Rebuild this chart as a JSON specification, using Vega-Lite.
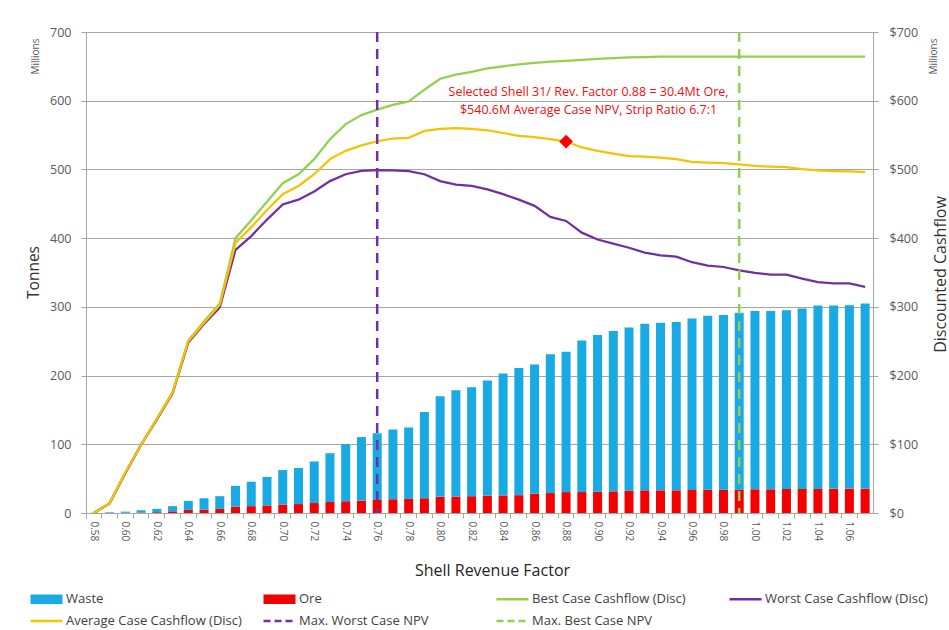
{
"$schema":"https://vega.github.io/schema/vega-lite/v6.json",
"width":787,"height":481,
"autosize":{"type":"none"},
"padding":{"left":86,"top":32,"right":76,"bottom":117},
"background":"white",
"config":{"font":"Open Sans","view":{"stroke":null},
 "axis":{"labelColor":"#595959","titleColor":"#333333","domainColor":"#A6A6A6","tickColor":"#A6A6A6","gridColor":"#A6A6A6","labelFont":"Open Sans","titleFont":"Open Sans","titleFontWeight":"normal"},
 "legend":{"labelFont":"Open Sans"}},
"datasets":{
"bars":[
{"rf":"0.58","s":"Ore","t":0},{"rf":"0.58","s":"Waste","t":0.3},
{"rf":"0.59","s":"Ore","t":0.2},{"rf":"0.59","s":"Waste","t":0.8},
{"rf":"0.60","s":"Ore","t":0.4},{"rf":"0.60","s":"Waste","t":1.6},
{"rf":"0.61","s":"Ore","t":0.7},{"rf":"0.61","s":"Waste","t":3.3},
{"rf":"0.62","s":"Ore","t":1.2},{"rf":"0.62","s":"Waste","t":4.8},
{"rf":"0.63","s":"Ore","t":2.5},{"rf":"0.63","s":"Waste","t":7.5},
{"rf":"0.64","s":"Ore","t":4.5},{"rf":"0.64","s":"Waste","t":13},
{"rf":"0.65","s":"Ore","t":5},{"rf":"0.65","s":"Waste","t":16.5},
{"rf":"0.66","s":"Ore","t":6},{"rf":"0.66","s":"Waste","t":18.5},
{"rf":"0.67","s":"Ore","t":9},{"rf":"0.67","s":"Waste","t":30.5},
{"rf":"0.68","s":"Ore","t":10},{"rf":"0.68","s":"Waste","t":35.5},
{"rf":"0.69","s":"Ore","t":11},{"rf":"0.69","s":"Waste","t":41.5},
{"rf":"0.70","s":"Ore","t":12},{"rf":"0.70","s":"Waste","t":50.5},
{"rf":"0.71","s":"Ore","t":13},{"rf":"0.71","s":"Waste","t":52.5},
{"rf":"0.72","s":"Ore","t":14.5},{"rf":"0.72","s":"Waste","t":60.5},
{"rf":"0.73","s":"Ore","t":16},{"rf":"0.73","s":"Waste","t":71},
{"rf":"0.74","s":"Ore","t":17},{"rf":"0.74","s":"Waste","t":83.5},
{"rf":"0.75","s":"Ore","t":18},{"rf":"0.75","s":"Waste","t":92.5},
{"rf":"0.76","s":"Ore","t":19},{"rf":"0.76","s":"Waste","t":97},
{"rf":"0.77","s":"Ore","t":20},{"rf":"0.77","s":"Waste","t":101.5},
{"rf":"0.78","s":"Ore","t":20.5},{"rf":"0.78","s":"Waste","t":104},
{"rf":"0.79","s":"Ore","t":21.5},{"rf":"0.79","s":"Waste","t":125.5},
{"rf":"0.80","s":"Ore","t":23.5},{"rf":"0.80","s":"Waste","t":146.5},
{"rf":"0.81","s":"Ore","t":24},{"rf":"0.81","s":"Waste","t":154.5},
{"rf":"0.82","s":"Ore","t":24.5},{"rf":"0.82","s":"Waste","t":158.5},
{"rf":"0.83","s":"Ore","t":25},{"rf":"0.83","s":"Waste","t":168},
{"rf":"0.84","s":"Ore","t":25.5},{"rf":"0.84","s":"Waste","t":177.5},
{"rf":"0.85","s":"Ore","t":26},{"rf":"0.85","s":"Waste","t":185},
{"rf":"0.86","s":"Ore","t":28},{"rf":"0.86","s":"Waste","t":188},
{"rf":"0.87","s":"Ore","t":29},{"rf":"0.87","s":"Waste","t":202},
{"rf":"0.88","s":"Ore","t":30.4},{"rf":"0.88","s":"Waste","t":204.1},
{"rf":"0.89","s":"Ore","t":30.5},{"rf":"0.89","s":"Waste","t":220.5},
{"rf":"0.90","s":"Ore","t":31},{"rf":"0.90","s":"Waste","t":228},
{"rf":"0.91","s":"Ore","t":31.5},{"rf":"0.91","s":"Waste","t":233.5},
{"rf":"0.92","s":"Ore","t":32.5},{"rf":"0.92","s":"Waste","t":237.5},
{"rf":"0.93","s":"Ore","t":33},{"rf":"0.93","s":"Waste","t":242.5},
{"rf":"0.94","s":"Ore","t":33},{"rf":"0.94","s":"Waste","t":244},
{"rf":"0.95","s":"Ore","t":33},{"rf":"0.95","s":"Waste","t":245},
{"rf":"0.96","s":"Ore","t":33.5},{"rf":"0.96","s":"Waste","t":249.5},
{"rf":"0.97","s":"Ore","t":34},{"rf":"0.97","s":"Waste","t":253},
{"rf":"0.98","s":"Ore","t":34},{"rf":"0.98","s":"Waste","t":254},
{"rf":"0.99","s":"Ore","t":34},{"rf":"0.99","s":"Waste","t":257.5},
{"rf":"1.00","s":"Ore","t":34.5},{"rf":"1.00","s":"Waste","t":259.5},
{"rf":"1.01","s":"Ore","t":34.5},{"rf":"1.01","s":"Waste","t":259.5},
{"rf":"1.02","s":"Ore","t":35},{"rf":"1.02","s":"Waste","t":260},
{"rf":"1.03","s":"Ore","t":35},{"rf":"1.03","s":"Waste","t":262.5},
{"rf":"1.04","s":"Ore","t":35},{"rf":"1.04","s":"Waste","t":267},
{"rf":"1.05","s":"Ore","t":35.5},{"rf":"1.05","s":"Waste","t":266.5},
{"rf":"1.06","s":"Ore","t":35.5},{"rf":"1.06","s":"Waste","t":267},
{"rf":"1.07","s":"Ore","t":35.5},{"rf":"1.07","s":"Waste","t":269.5}
],
"lines":[
{"rf":"0.58","s":"Best Case Cashflow (Disc)","v":0},{"rf":"0.59","s":"Best Case Cashflow (Disc)","v":14},{"rf":"0.60","s":"Best Case Cashflow (Disc)","v":59},{"rf":"0.61","s":"Best Case Cashflow (Disc)","v":100},{"rf":"0.62","s":"Best Case Cashflow (Disc)","v":137},{"rf":"0.63","s":"Best Case Cashflow (Disc)","v":176},{"rf":"0.64","s":"Best Case Cashflow (Disc)","v":251},{"rf":"0.65","s":"Best Case Cashflow (Disc)","v":279},{"rf":"0.66","s":"Best Case Cashflow (Disc)","v":305},{"rf":"0.67","s":"Best Case Cashflow (Disc)","v":400},
{"rf":"0.68","s":"Best Case Cashflow (Disc)","v":426},{"rf":"0.69","s":"Best Case Cashflow (Disc)","v":453},{"rf":"0.70","s":"Best Case Cashflow (Disc)","v":480},{"rf":"0.71","s":"Best Case Cashflow (Disc)","v":493},{"rf":"0.72","s":"Best Case Cashflow (Disc)","v":515},{"rf":"0.73","s":"Best Case Cashflow (Disc)","v":544},{"rf":"0.74","s":"Best Case Cashflow (Disc)","v":566},{"rf":"0.75","s":"Best Case Cashflow (Disc)","v":579},{"rf":"0.76","s":"Best Case Cashflow (Disc)","v":587},{"rf":"0.77","s":"Best Case Cashflow (Disc)","v":594},
{"rf":"0.78","s":"Best Case Cashflow (Disc)","v":599},{"rf":"0.79","s":"Best Case Cashflow (Disc)","v":616},{"rf":"0.80","s":"Best Case Cashflow (Disc)","v":632},{"rf":"0.81","s":"Best Case Cashflow (Disc)","v":638},{"rf":"0.82","s":"Best Case Cashflow (Disc)","v":642},{"rf":"0.83","s":"Best Case Cashflow (Disc)","v":647},{"rf":"0.84","s":"Best Case Cashflow (Disc)","v":650},{"rf":"0.85","s":"Best Case Cashflow (Disc)","v":653},{"rf":"0.86","s":"Best Case Cashflow (Disc)","v":655},{"rf":"0.87","s":"Best Case Cashflow (Disc)","v":657},
{"rf":"0.88","s":"Best Case Cashflow (Disc)","v":658},{"rf":"0.89","s":"Best Case Cashflow (Disc)","v":659.5},{"rf":"0.90","s":"Best Case Cashflow (Disc)","v":661},{"rf":"0.91","s":"Best Case Cashflow (Disc)","v":662},{"rf":"0.92","s":"Best Case Cashflow (Disc)","v":663},{"rf":"0.93","s":"Best Case Cashflow (Disc)","v":663.5},{"rf":"0.94","s":"Best Case Cashflow (Disc)","v":664},{"rf":"0.95","s":"Best Case Cashflow (Disc)","v":664},{"rf":"0.96","s":"Best Case Cashflow (Disc)","v":664},{"rf":"0.97","s":"Best Case Cashflow (Disc)","v":664},
{"rf":"0.98","s":"Best Case Cashflow (Disc)","v":664},{"rf":"0.99","s":"Best Case Cashflow (Disc)","v":664},{"rf":"1.00","s":"Best Case Cashflow (Disc)","v":664},{"rf":"1.01","s":"Best Case Cashflow (Disc)","v":664},{"rf":"1.02","s":"Best Case Cashflow (Disc)","v":664},{"rf":"1.03","s":"Best Case Cashflow (Disc)","v":664},{"rf":"1.04","s":"Best Case Cashflow (Disc)","v":664},{"rf":"1.05","s":"Best Case Cashflow (Disc)","v":664},{"rf":"1.06","s":"Best Case Cashflow (Disc)","v":664},{"rf":"1.07","s":"Best Case Cashflow (Disc)","v":664},
{"rf":"0.58","s":"Worst Case Cashflow (Disc)","v":0},{"rf":"0.59","s":"Worst Case Cashflow (Disc)","v":14},{"rf":"0.60","s":"Worst Case Cashflow (Disc)","v":58},{"rf":"0.61","s":"Worst Case Cashflow (Disc)","v":99},{"rf":"0.62","s":"Worst Case Cashflow (Disc)","v":136},{"rf":"0.63","s":"Worst Case Cashflow (Disc)","v":174},{"rf":"0.64","s":"Worst Case Cashflow (Disc)","v":248},{"rf":"0.65","s":"Worst Case Cashflow (Disc)","v":275},{"rf":"0.66","s":"Worst Case Cashflow (Disc)","v":299},{"rf":"0.67","s":"Worst Case Cashflow (Disc)","v":383},
{"rf":"0.68","s":"Worst Case Cashflow (Disc)","v":403},{"rf":"0.69","s":"Worst Case Cashflow (Disc)","v":427},{"rf":"0.70","s":"Worst Case Cashflow (Disc)","v":449},{"rf":"0.71","s":"Worst Case Cashflow (Disc)","v":456},{"rf":"0.72","s":"Worst Case Cashflow (Disc)","v":468},{"rf":"0.73","s":"Worst Case Cashflow (Disc)","v":483},{"rf":"0.74","s":"Worst Case Cashflow (Disc)","v":493},{"rf":"0.75","s":"Worst Case Cashflow (Disc)","v":498},{"rf":"0.76","s":"Worst Case Cashflow (Disc)","v":499},{"rf":"0.77","s":"Worst Case Cashflow (Disc)","v":498.5},
{"rf":"0.78","s":"Worst Case Cashflow (Disc)","v":497.5},{"rf":"0.79","s":"Worst Case Cashflow (Disc)","v":493},{"rf":"0.80","s":"Worst Case Cashflow (Disc)","v":483},{"rf":"0.81","s":"Worst Case Cashflow (Disc)","v":478},{"rf":"0.82","s":"Worst Case Cashflow (Disc)","v":476},{"rf":"0.83","s":"Worst Case Cashflow (Disc)","v":471},{"rf":"0.84","s":"Worst Case Cashflow (Disc)","v":464},{"rf":"0.85","s":"Worst Case Cashflow (Disc)","v":456},{"rf":"0.86","s":"Worst Case Cashflow (Disc)","v":447},{"rf":"0.87","s":"Worst Case Cashflow (Disc)","v":431},
{"rf":"0.88","s":"Worst Case Cashflow (Disc)","v":425},{"rf":"0.89","s":"Worst Case Cashflow (Disc)","v":408},{"rf":"0.90","s":"Worst Case Cashflow (Disc)","v":398},{"rf":"0.91","s":"Worst Case Cashflow (Disc)","v":392},{"rf":"0.92","s":"Worst Case Cashflow (Disc)","v":386},{"rf":"0.93","s":"Worst Case Cashflow (Disc)","v":379},{"rf":"0.94","s":"Worst Case Cashflow (Disc)","v":375},{"rf":"0.95","s":"Worst Case Cashflow (Disc)","v":373},{"rf":"0.96","s":"Worst Case Cashflow (Disc)","v":365},{"rf":"0.97","s":"Worst Case Cashflow (Disc)","v":360},
{"rf":"0.98","s":"Worst Case Cashflow (Disc)","v":358},{"rf":"0.99","s":"Worst Case Cashflow (Disc)","v":353},{"rf":"1.00","s":"Worst Case Cashflow (Disc)","v":349.5},{"rf":"1.01","s":"Worst Case Cashflow (Disc)","v":347},{"rf":"1.02","s":"Worst Case Cashflow (Disc)","v":347},{"rf":"1.03","s":"Worst Case Cashflow (Disc)","v":341},{"rf":"1.04","s":"Worst Case Cashflow (Disc)","v":336},{"rf":"1.05","s":"Worst Case Cashflow (Disc)","v":334},{"rf":"1.06","s":"Worst Case Cashflow (Disc)","v":334},{"rf":"1.07","s":"Worst Case Cashflow (Disc)","v":329},
{"rf":"0.58","s":"Average Case Cashflow (Disc)","v":0},{"rf":"0.59","s":"Average Case Cashflow (Disc)","v":14},{"rf":"0.60","s":"Average Case Cashflow (Disc)","v":59},{"rf":"0.61","s":"Average Case Cashflow (Disc)","v":99},{"rf":"0.62","s":"Average Case Cashflow (Disc)","v":137},{"rf":"0.63","s":"Average Case Cashflow (Disc)","v":175},{"rf":"0.64","s":"Average Case Cashflow (Disc)","v":250},{"rf":"0.65","s":"Average Case Cashflow (Disc)","v":277},{"rf":"0.66","s":"Average Case Cashflow (Disc)","v":303},{"rf":"0.67","s":"Average Case Cashflow (Disc)","v":393},
{"rf":"0.68","s":"Average Case Cashflow (Disc)","v":416},{"rf":"0.69","s":"Average Case Cashflow (Disc)","v":441},{"rf":"0.70","s":"Average Case Cashflow (Disc)","v":464},{"rf":"0.71","s":"Average Case Cashflow (Disc)","v":476},{"rf":"0.72","s":"Average Case Cashflow (Disc)","v":493},{"rf":"0.73","s":"Average Case Cashflow (Disc)","v":515},{"rf":"0.74","s":"Average Case Cashflow (Disc)","v":527},{"rf":"0.75","s":"Average Case Cashflow (Disc)","v":535},{"rf":"0.76","s":"Average Case Cashflow (Disc)","v":541},{"rf":"0.77","s":"Average Case Cashflow (Disc)","v":545},
{"rf":"0.78","s":"Average Case Cashflow (Disc)","v":546},{"rf":"0.79","s":"Average Case Cashflow (Disc)","v":556},{"rf":"0.80","s":"Average Case Cashflow (Disc)","v":559},{"rf":"0.81","s":"Average Case Cashflow (Disc)","v":560},{"rf":"0.82","s":"Average Case Cashflow (Disc)","v":559},{"rf":"0.83","s":"Average Case Cashflow (Disc)","v":557},{"rf":"0.84","s":"Average Case Cashflow (Disc)","v":553},{"rf":"0.85","s":"Average Case Cashflow (Disc)","v":549},{"rf":"0.86","s":"Average Case Cashflow (Disc)","v":547},{"rf":"0.87","s":"Average Case Cashflow (Disc)","v":544},
{"rf":"0.88","s":"Average Case Cashflow (Disc)","v":540.6},{"rf":"0.89","s":"Average Case Cashflow (Disc)","v":532},{"rf":"0.90","s":"Average Case Cashflow (Disc)","v":527},{"rf":"0.91","s":"Average Case Cashflow (Disc)","v":523},{"rf":"0.92","s":"Average Case Cashflow (Disc)","v":519.5},{"rf":"0.93","s":"Average Case Cashflow (Disc)","v":518.5},{"rf":"0.94","s":"Average Case Cashflow (Disc)","v":517},{"rf":"0.95","s":"Average Case Cashflow (Disc)","v":515},{"rf":"0.96","s":"Average Case Cashflow (Disc)","v":511},{"rf":"0.97","s":"Average Case Cashflow (Disc)","v":510},
{"rf":"0.98","s":"Average Case Cashflow (Disc)","v":509},{"rf":"0.99","s":"Average Case Cashflow (Disc)","v":507.5},{"rf":"1.00","s":"Average Case Cashflow (Disc)","v":505},{"rf":"1.01","s":"Average Case Cashflow (Disc)","v":504},{"rf":"1.02","s":"Average Case Cashflow (Disc)","v":503.5},{"rf":"1.03","s":"Average Case Cashflow (Disc)","v":500.5},{"rf":"1.04","s":"Average Case Cashflow (Disc)","v":498.5},{"rf":"1.05","s":"Average Case Cashflow (Disc)","v":497.5},{"rf":"1.06","s":"Average Case Cashflow (Disc)","v":497},{"rf":"1.07","s":"Average Case Cashflow (Disc)","v":496}
],
"rules":[{"rf":"0.76","s":"Max. Worst Case NPV"},{"rf":"0.99","s":"Max. Best Case NPV"}],
"marker":[{"rf":"0.88","v":540.6}],
"note":[{"rf":"0.90","v":613,"txt":["Selected Shell 31/ Rev. Factor 0.88 = 30.4Mt Ore,","$540.6M Average Case NPV, Strip Ratio 6.7:1"]}]
},
"layer":[
{"data":{"name":"bars"},
 "mark":{"type":"bar","size":9},
 "encoding":{
  "x":{"field":"rf","type":"ordinal","scale":{"type":"band","paddingInner":0,"paddingOuter":0},
   "axis":{"orient":"bottom","title":"Shell Revenue Factor","values":["0.58","0.60","0.62","0.64","0.66","0.68","0.70","0.72","0.74","0.76","0.78","0.80","0.82","0.84","0.86","0.88","0.90","0.92","0.94","0.96","0.98","1.00","1.02","1.04","1.06"],
    "labelAngle":90,"ticks":false,"domain":true,"grid":false,"labelFontSize":10,"labelPadding":8,"titleFontSize":16,"titleX":406,"titleY":57,"titleBaseline":"middle","titleAlign":"center","titleColor":"#262626"}},
  "y":{"field":"t","type":"quantitative","stack":"zero","scale":{"domain":[0,700],"nice":false,"zero":true},
   "axis":{"orient":"left","title":"Tonnes","values":[0,100,200,300,400,500,600,700],"grid":true,"tickSize":5,"labelFontSize":12.5,"labelPadding":10,"titleFontSize":15.5,"titleAngle":-90,"titleX":-53,"titleY":240,"titleBaseline":"middle","titleAlign":"center","titleColor":"#333333"}},
  "color":{"field":"s","type":"nominal",
   "scale":{"domain":["Waste","Ore","Best Case Cashflow (Disc)","Worst Case Cashflow (Disc)","Average Case Cashflow (Disc)","Max. Worst Case NPV","Max. Best Case NPV"],
            "range":["#19AAE3","#F50000","#92D050","#7030A0","#F7C200","#7030A0","#92D050"]},
   "legend":{"orient":"none","legendX":-46,"legendY":560.5,"direction":"horizontal","columns":4,"title":null,"padding":0,
    "symbolSize":256,"symbolType":"M-2,-0.6H2V0.6H-2Z","labelFontSize":13,"labelColor":"#404040","labelOffset":13,"columnPadding":16,"rowPadding":8,"gridAlign":"all","labelLimit":300,
    "encode":{"symbols":{"update":{
      "shape":{"signal":"(datum.value === 'Waste' || datum.value === 'Ore') ? 'M-2,-0.6H2V0.6H-2Z' : 'M-2,0H2'"},
      "fill":{"signal":"(datum.value === 'Waste' || datum.value === 'Ore') ? scale('color', datum.value) : 'transparent'"},
      "stroke":{"signal":"scale('color', datum.value)"},
      "strokeWidth":{"signal":"(datum.value === 'Waste' || datum.value === 'Ore') ? 0 : 2.5"},
      "strokeDash":{"signal":"indexof(datum.value, 'Max.') === 0 ? [7,4] : [1,0]"},
      "opacity":{"value":1}}}}}},
  "order":{"field":"s","sort":"ascending"}
 }},
{"data":{"name":"lines"},
 "mark":{"type":"line","strokeWidth":2.25},
 "encoding":{
  "x":{"field":"rf","type":"ordinal","axis":{"orient":"bottom","labels":false,"ticks":true,"tickSize":5,"domain":false,"grid":false,"title":null,"bandPosition":0}},
  "y":{"field":"v","type":"quantitative",
   "axis":{"orient":"right","title":"Discounted Cashflow","values":[0,100,200,300,400,500,600,700],"format":"$.0f","grid":false,"tickSize":5,"labelFontSize":12.5,"labelPadding":11,"titleFontSize":16,"titleAngle":-90,"titleX":67,"titleY":242,"titleBaseline":"middle","titleAlign":"center","titleColor":"#333333"}},
  "color":{"field":"s","type":"nominal"}
 }},
{"data":{"name":"rules"},
 "mark":{"type":"rule","strokeWidth":2.5,"strokeDash":[10,7]},
 "encoding":{
  "x":{"field":"rf","type":"ordinal","axis":null},
  "color":{"field":"s","type":"nominal"}
 }},
{"data":{"name":"marker"},
 "mark":{"type":"point","shape":"diamond","filled":true,"size":190,"color":"#FF0000","opacity":1},
 "encoding":{
  "x":{"field":"rf","type":"ordinal","axis":null},
  "y":{"field":"v","type":"quantitative","axis":{"orient":"left","title":"Millions","labels":false,"ticks":false,"domain":false,"grid":false,"titleFontSize":10,"titleColor":"#595959","titleAngle":-90,"titleX":-51,"titleY":24,"titleBaseline":"middle","titleAlign":"center"}}
 }},
{"data":{"name":"note"},
 "mark":{"type":"text","color":"#F01010","fontSize":12.5,"align":"center","baseline":"middle","lineHeight":18,"dx":-9,"font":"Open Sans"},
 "encoding":{
  "x":{"field":"rf","type":"ordinal","axis":null},
  "y":{"field":"v","type":"quantitative","axis":{"orient":"right","title":"Millions","labels":false,"ticks":false,"domain":false,"grid":false,"titleFontSize":10,"titleColor":"#595959","titleAngle":-90,"titleX":60,"titleY":24,"titleBaseline":"middle","titleAlign":"center"}},
  "text":{"field":"txt"}
 }}
],
"resolve":{"axis":{"x":"independent","y":"independent"},"scale":{"x":"shared","y":"shared"}}
}
